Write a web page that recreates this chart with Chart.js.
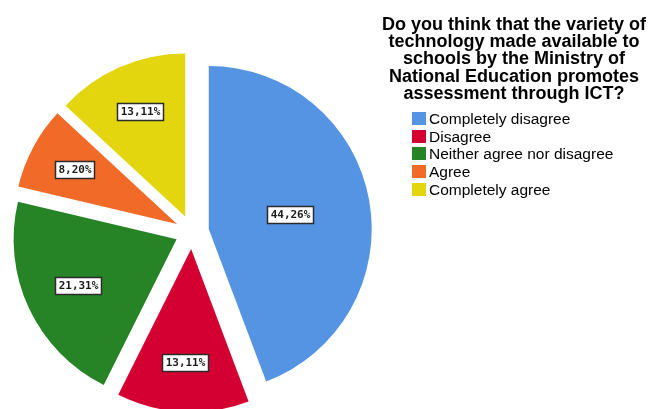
<!DOCTYPE html>
<html>
<head>
<meta charset="utf-8">
<title>ICT assessment survey</title>
<script src="https://cdn.jsdelivr.net/npm/chart.js@4/dist/chart.umd.min.js"></script>
<style>
  body { margin: 0; background: #fff; }
  #wrap { width: 651px; height: 409px; }
</style>
</head>
<body>
<div id="wrap"><canvas id="pieChart" width="651" height="409"></canvas></div>
<script>
const answers = ['Completely disagree', 'Disagree', 'Neither agree nor disagree', 'Agree', 'Completely agree'];
const percents = [44.26, 13.11, 21.31, 8.20, 13.11];
const sliceColors = ['#5594e3', '#d50032', '#268427', '#f26a28', '#e3d60e'];
const titleLines = [
    'Do you think that the variety of',
    'technology made available to',
    'schools by the Ministry of',
    'National Education promotes',
    'assessment through ICT?'
];

const EXPLODE = 17;

// pulls every slice out from the centre along its middle angle
const explodePlugin = {
    id: 'explode',
    beforeDatasetDraw(chart, args) {
        const ctx = chart.ctx;
        args.meta.data.forEach(arc => {
            const mid = (arc.startAngle + arc.endAngle) / 2;
            ctx.save();
            ctx.translate(Math.cos(mid) * EXPLODE, Math.sin(mid) * EXPLODE);
            arc.draw(ctx);
            ctx.restore();
        });
        return false;
    },
    // percentage boxes, placed near each slice's centroid
    afterDatasetsDraw(chart) {
        const ctx = chart.ctx;
        const meta = chart.getDatasetMeta(0);
        const values = chart.data.datasets[0].data;
        ctx.save();
        ctx.font = 'bold 11px "DejaVu Sans Mono"';
        ctx.textAlign = 'center';
        ctx.textBaseline = 'middle';
        meta.data.forEach((arc, i) => {
            const mid = (arc.startAngle + arc.endAngle) / 2;
            const half = (arc.endAngle - arc.startAngle) / 2;
            const dist = 0.72 * arc.outerRadius * Math.sin(half) / half + EXPLODE;
            const x = arc.x + Math.cos(mid) * dist;
            const y = arc.y + Math.sin(mid) * dist;
            const text = values[i].toFixed(2).replace('.', ',') + '%';
            const w = Math.round(ctx.measureText(text).width) + 6;
            const h = 17;
            const bx = Math.round(x - w / 2) + 0.5;
            const by = Math.round(y - h / 2) + 0.5;
            ctx.fillStyle = '#ffffff';
            ctx.fillRect(bx, by, w, h);
            ctx.strokeStyle = '#2b2b2b';
            ctx.lineWidth = 1.5;
            ctx.strokeRect(bx, by, w, h);
            ctx.fillStyle = '#1a1a1a';
            ctx.fillText(text, bx + w / 2, by + h / 2 + 0.5);
        });
        ctx.restore();
    }
};

// question text and the key, placed to the right of the pie
const sidePlugin = {
    id: 'side',
    afterDraw(chart) {
        const ctx = chart.ctx;
        ctx.save();
        ctx.fillStyle = '#000';
        ctx.textAlign = 'center';
        ctx.textBaseline = 'alphabetic';
        ctx.font = 'bold 18px "Liberation Sans"';
        titleLines.forEach((line, i) => {
            ctx.fillText(line, 514, 30 + i * 17.2);
        });

        ctx.textAlign = 'left';
        ctx.font = '15.5px "Liberation Sans"';
        const colors = chart.data.datasets[0].backgroundColor;
        chart.data.labels.forEach((label, i) => {
            const top = 112 + i * 17.7;
            ctx.fillStyle = colors[i];
            ctx.fillRect(412, Math.round(top), 14, 13);
            ctx.fillStyle = '#000';
            ctx.fillText(label, 429, top + 12);
        });
        ctx.restore();
    }
};

new Chart(document.getElementById('pieChart'), {
    type: 'pie',
    data: {
        labels: answers,
        datasets: [{
            data: percents,
            backgroundColor: sliceColors,
            borderWidth: 0
        }]
    },
    options: {
        responsive: false,
        animation: false,
        layout: {
            padding: { left: 29, top: 69, right: 296, bottom: 14 }
        },
        plugins: {
            legend: { display: false },
            tooltip: { enabled: false }
        }
    },
    plugins: [explodePlugin, sidePlugin]
});
</script>
</body>
</html>
